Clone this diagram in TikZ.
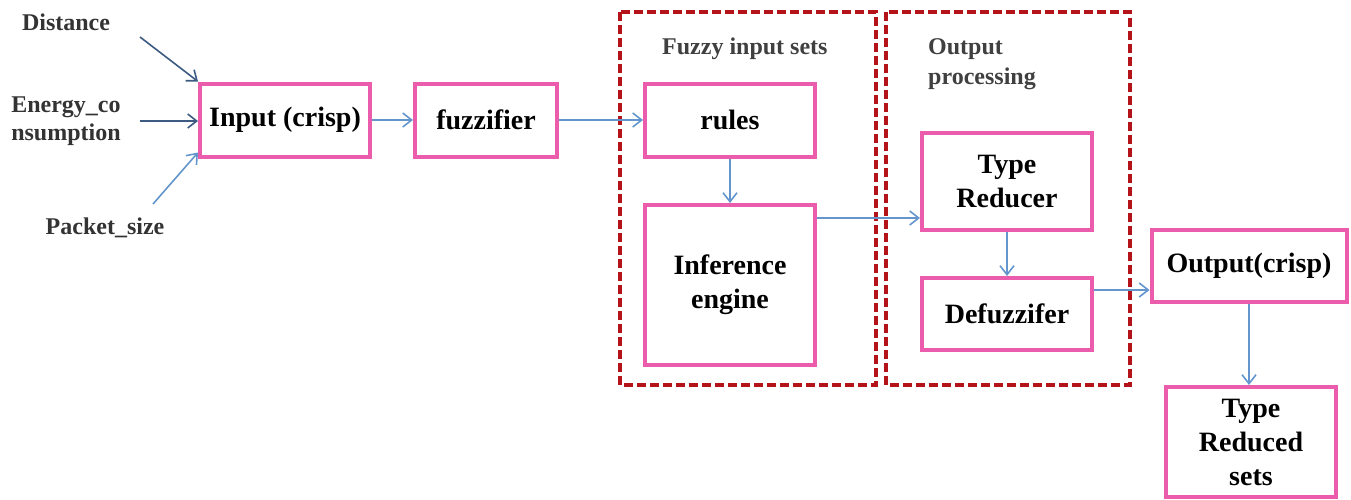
\documentclass[tikz,border=0pt]{standalone}
\usepackage{fontspec}
\setmainfont{Liberation Serif}
\usetikzlibrary{arrows.meta}
\definecolor{boxpink}{RGB}{236,92,172}
\definecolor{groupred}{RGB}{180,20,25}
\definecolor{flowblue}{RGB}{100,150,205}
\definecolor{inblue}{RGB}{60,90,130}
\tikzset{
  blockbox/.style={draw=boxpink, line width=4pt, fill=white, align=center,
    font=\fontsize{28}{34}\selectfont\bfseries, inner sep=0pt},
  groupbox/.style={draw=groupred, line width=4.5pt, dash pattern=on 9pt off 4pt},
  flow/.style={draw=flowblue, line width=1.6pt, -{Straight Barb[length=9pt,width=14pt,line width=1.6pt]}},
  inflow/.style={draw=inblue, line width=1.6pt, -{Straight Barb[length=9pt,width=14pt,line width=1.6pt]}},
  inlabel/.style={font=\fontsize{24}{28}\selectfont\bfseries, text=black!80, align=left, inner sep=0pt},
  grouplabel/.style={font=\fontsize{24}{30}\selectfont\bfseries, text=black!75, align=left, inner sep=0pt}
}
\begin{document}
\begin{tikzpicture}[x=1pt,y=-1pt]
\useasboundingbox (0,0) rectangle (1351,499);
% dashed group frames
\draw[groupbox] (620,12) rectangle (876,385);
\draw[groupbox] (886,12) rectangle (1130,385);
\node[grouplabel, anchor=west] (gl1) at (662,49) {Fuzzy input sets};
\node[grouplabel, anchor=north west] (gl2) at (928,38) {Output\\processing};
% input labels
\node[inlabel] (dist) at (66,22) {Distance};
\node[inlabel] (energy) at (66,121) {Energy\_co\\nsumption};
\node[inlabel] (packet) at (105,228) {Packet\_size};
\coordinate (dstart) at (140,37);
\coordinate (estart) at (140,121);
\coordinate (pstart) at (153,204);
% blocks
\node[blockbox, minimum width=170pt, minimum height=73pt] (input) at (285,120) {Input (crisp)};
\node[blockbox, minimum width=142pt, minimum height=73pt] (fuzz) at (486,120) {fuzzifier};
\node[blockbox, minimum width=170pt, minimum height=73pt] (rules) at (730,120) {rules};
\node[blockbox, minimum width=170pt, minimum height=160pt] (infer) at (730,285) {Inference\\engine};
\node[blockbox, minimum width=170pt, minimum height=97pt] (tred) at (1007,181) {Type\\Reducer};
\node[blockbox, minimum width=170pt, minimum height=72pt] (defuzz) at (1007,314) {Defuzzifer};
\node[blockbox, minimum width=195pt, minimum height=72pt] (outc) at (1249,266) {Output(crisp)};
\node[blockbox, minimum width=170pt, minimum height=110pt] (tsets) at (1251,442) {Type\\Reduced\\sets};
% connectors
\draw[inflow] (dstart) -- (input.north west);
\draw[inflow] (estart) -- (estart -| input.west);
\draw[flow] (pstart) -- ([yshift=6pt]input.south west);
\draw[flow] (input) -- (fuzz);
\draw[flow] (fuzz) -- (rules);
\draw[flow] (rules) -- (infer);
\draw[flow] ([yshift=67pt]infer.east) -- ([yshift=67pt]infer.east -| tred.west);
\draw[flow] (tred) -- (defuzz);
\draw[flow] ([yshift=24pt]defuzz.east) -- ([yshift=24pt]defuzz.east -| outc.west);
\draw[flow] (outc.south) -- (outc.south |- tsets.north);
\end{tikzpicture}
\end{document}
